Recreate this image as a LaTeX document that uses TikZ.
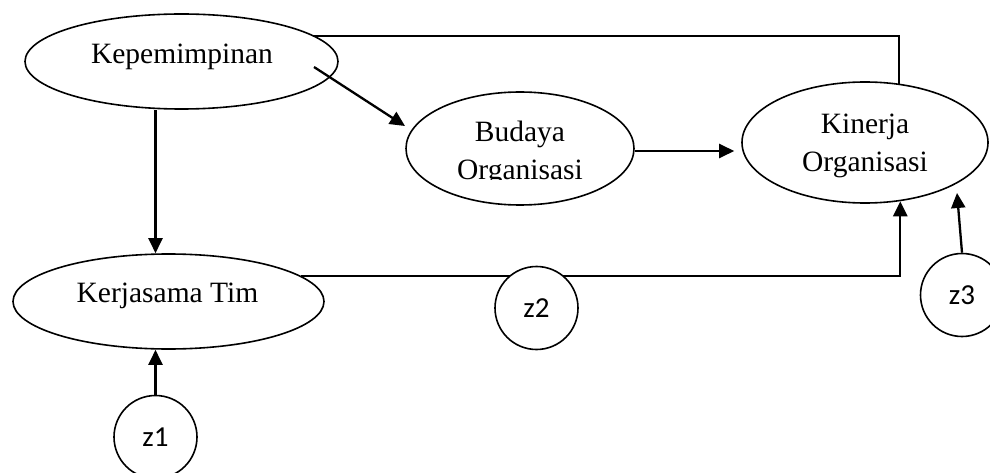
\documentclass[tikz,border=0pt]{standalone}
\usepackage{fontspec}
\setmainfont{Liberation Serif}
\newfontfamily\calfont{Carlito}
\usetikzlibrary{shapes.geometric,arrows.meta,calc}
\begin{document}
\begin{tikzpicture}[x=1pt,y=-1pt,
  oval/.style={draw, ellipse, line width=1.6pt, inner sep=0pt},
  errc/.style={draw, circle, line width=1.6pt, minimum size=83pt, inner sep=0pt, fill=white, font=\calfont\fontsize{29}{35}\selectfont},
  lbl/.style={anchor=base, inner sep=0pt, font=\fontsize{29.5}{35}\selectfont},
  conn/.style={line width=2.3pt},
  arr/.style={conn, -{Triangle[length=15pt,width=14pt]}}]
\clip (0,0) rectangle (990,473);
% ellipses
\node[oval, minimum width=313pt, minimum height=95pt] (kep) at (181.5,61.5) {};
\node[oval, minimum width=311pt, minimum height=95pt] (ker) at (168.5,301.5) {};
\node[oval, minimum width=228pt, minimum height=113pt] (bud) at (520,148.5) {};
\node[oval, minimum width=246pt, minimum height=121pt] (kin) at (865,142.5) {};
% texts
\node[lbl] (kept) at (182,63.3) {Kepemimpinan};
\node[lbl] (kert) at (167.5,302.7) {Kerjasama Tim};
\node[lbl] (budt1) at (520,141.7) {Budaya};
\begin{scope}
  \clip (400,150) rectangle (640,179.3);
  \node[lbl] (budt2) at (520,180) {Organisasi};
\end{scope}
\node[lbl] (kint1) at (865,133.3) {Kinerja};
\node[lbl] (kint2) at (865,171.7) {Organisasi};
% error circles (z1, z3)
\node[errc] (z1) at (155.5,437) {z1};
\node[errc] (z3) at (962,295) {z3};
% connectors
\draw[conn] (kep.11.5) -| (kin.60.5);
\coordinate (d1) at (314,67);
\coordinate (d2) at (405,126);
\draw[arr] (d1) -- (d2);
\draw[arr] (z1.north |- kep.south) -- (z1.north |- ker.north);
\draw[arr, shorten >=7pt] ([yshift=-2.5pt]bud.east) -- ([yshift=-2.5pt]bud.east -| kin.west);
\draw[arr] (ker.11) -| (kin.-59.7);
\draw[arr] (z1.north) -- (z1.north |- ker.south);
\coordinate (z3tip) at (957,193);
\draw[arr] (z3.north) -- (z3tip);
% z2 over the line
\node[errc] (z2) at (536.5,308) {z2};
\end{tikzpicture}
\end{document}
